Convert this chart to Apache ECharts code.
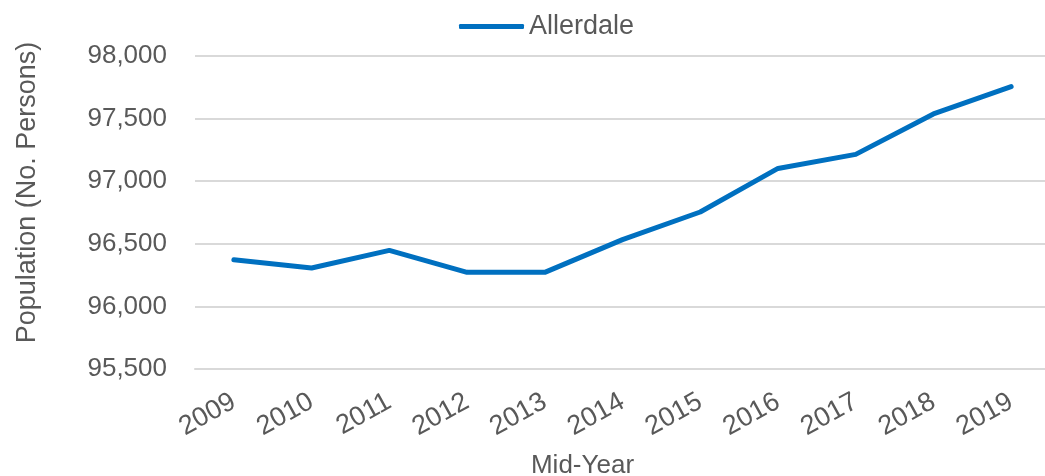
<!DOCTYPE html>
<html>
<head>
<meta charset="utf-8">
<script src="https://cdn.jsdelivr.net/npm/echarts@6/dist/echarts.min.js"></script>
<style>
  html, body { margin: 0; padding: 0; background: #fff; }
  #chart { width: 1045px; height: 476px; }
</style>
</head>
<body>
<div id="chart"></div>
<script>
// mid-year population estimates
var years = ['2009', '2010', '2011', '2012', '2013', '2014', '2015', '2016', '2017', '2018', '2019'];
var allerdale = [96373, 96307, 96447, 96272, 96272, 96533, 96754, 97102, 97214, 97537, 97755];
var yTicks = [95500, 96000, 96500, 97000, 97500, 98000];

var chart = echarts.init(document.getElementById('chart'));
var font = 'Liberation Sans, Arial, sans-serif';

chart.setOption({
    animation: false,
    textStyle: { fontFamily: font },
    legend: {
        left: 454,
        top: 8,
        itemWidth: 65,
        itemHeight: 5,
        itemGap: 10,
        icon: 'roundRect',
        textStyle: { fontSize: 27, color: '#595959', fontFamily: font },
        data: ['Allerdale']
    },
    grid: { left: 195, right: -5, top: 56, bottom: 107, outerBoundsMode: 'none', containLabel: false },
    xAxis: {
        type: 'category',
        data: years,
        name: 'Mid-Year',
        nameLocation: 'middle',
        nameGap: 84,
        nameTextStyle: { fontSize: 26, color: '#595959', padding: [0, 80, 0, 0] },
        axisLine: { show: true, lineStyle: { color: '#d9d9d9', width: 2 } },
        axisTick: { show: false },
        axisLabel: { rotate: 29, fontSize: 27, color: '#595959', margin: 31 }
    },
    yAxis: {
        type: 'value',
        min: yTicks[0],
        max: yTicks[yTicks.length - 1],
        interval: 500,
        name: 'Population (No. Persons)',
        nameLocation: 'middle',
        nameGap: 154,
        nameTextStyle: { fontSize: 27, color: '#595959', padding: [0, 0, 0, 40] },
        axisLine: { show: false },
        axisTick: { show: false },
        splitLine: { lineStyle: { color: '#d9d9d9', width: 2 } },
        axisLabel: {
            fontSize: 26,
            color: '#595959',
            margin: 28,
            formatter: function (v) { return v.toLocaleString('en-GB'); }
        }
    },
    series: [
        {
            name: 'Allerdale',
            type: 'line',
            data: allerdale,
            symbol: 'none',
            color: '#0070C0',
            lineStyle: { width: 5, color: '#0070C0', cap: 'round', join: 'round' }
        }
    ]
});
</script>
</body>
</html>
